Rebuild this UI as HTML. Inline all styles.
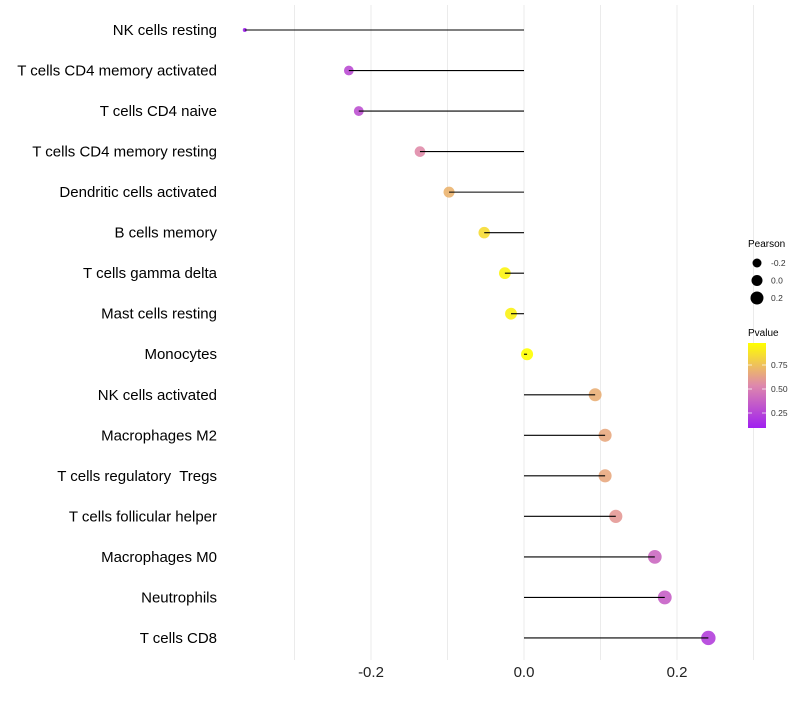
<!DOCTYPE html>
<html><head><meta charset="utf-8"><style>
body{margin:0;background:#fff;font-family:"Liberation Sans",sans-serif;}
</style></head><body>
<svg id="chart" width="800" height="700" style="font-family:'Liberation Sans',sans-serif"></svg>
<script>
const categories=["NK cells resting","T cells CD4 memory activated","T cells CD4 naive","T cells CD4 memory resting","Dendritic cells activated","B cells memory","T cells gamma delta","Mast cells resting","Monocytes","NK cells activated","Macrophages M2","T cells regulatory  Tregs","T cells follicular helper","Macrophages M0","Neutrophils","T cells CD8"];
const pearson=[-0.365,-0.229,-0.216,-0.136,-0.098,-0.052,-0.025,-0.017,0.004,0.093,0.106,0.106,0.120,0.171,0.184,0.241];
const pvalue=[0.09,0.28,0.30,0.55,0.70,0.85,0.94,0.93,0.98,0.68,0.66,0.66,0.60,0.40,0.36,0.22];
const xTicks=[-0.2,0.0,0.2];
const xTickLabels=["-0.2","0.0","0.2"];
const legendSizes=[-0.2,0.0,0.2];
const legendPTicks=[0.25,0.50,0.75];

const NS="http://www.w3.org/2000/svg";
const svg=document.getElementById('chart');
function mk(t,a,p){const e=document.createElementNS(NS,t);for(const k in a)e.setAttribute(k,a[k]);(p||svg).appendChild(e);return e;}
const x=v=>524+v*765;
const y=i=>30+i*40.53;
const r=v=>v>-0.25?6+5*v:Math.max(1.8,4.75+(v+0.25)*24);
function lerp(a,b,t){return a.map((c,i)=>Math.round(c+(b[i]-c)*t));}
function col(p){const lo=[160,32,240],mid=[224,140,170],hi=[255,255,0];
 let c;if(p<0.55)c=lerp(lo,mid,Math.max(0,(p-0.09)/0.46));else c=lerp(mid,hi,Math.min(1,(p-0.55)/0.43));
 return `rgb(${c[0]},${c[1]},${c[2]})`;}
const yp=p=>389-(p-0.5)*96;

for(let g=-0.3;g<=0.31;g+=0.1){
 const gl=mk('line',{x1:x(g),x2:x(g),y1:5,y2:660,stroke:'#ebebeb','stroke-width':1});
 
 
}
xTicks.forEach((t,i)=>{
 const tx=mk('text',{x:x(t),y:677,'text-anchor':'middle','font-size':15,fill:'#222'});
 tx.textContent=xTickLabels[i];
 
 
});
categories.forEach((c,i)=>{
 const t=mk('text',{x:217,y:y(i)+5,'text-anchor':'end','font-size':15,fill:'#000',style:'white-space:pre'});
 t.textContent=c;
 
 
 const pt=mk('circle',{cx:x(pearson[i]),cy:y(i),r:r(pearson[i]),fill:col(pvalue[i]),'fill-opacity':0.9});
 
 
 const ln=mk('line',{x1:x(0),x2:x(pearson[i]),y1:y(i),y2:y(i),stroke:'#000','stroke-width':1.1});
 
 
});
const lt=mk('text',{x:748,y:247,'font-size':10,fill:'#000'});lt.textContent='Pearson';


legendSizes.forEach((s,i)=>{
 const cy=263+i*17.5;
 const c=mk('circle',{cx:757,cy:cy,r:r(s)-0.5,fill:'#000'});
 
 
 const t=mk('text',{x:771,y:cy+3,'font-size':8.5,fill:'#333'});t.textContent=s.toFixed(1);
 
 
});
const pt=mk('text',{x:748,y:336,'font-size':10,fill:'#000'});pt.textContent='Pvalue';


const defs=mk('defs',{});
const lg=mk('linearGradient',{id:'pg',x1:0,y1:1,x2:0,y2:0},defs);
[0,0.25,0.5,0.75,1].forEach(f=>{const p=0.09+f*0.89;mk('stop',{offset:f,'stop-color':col(p)},lg);});
const bar=mk('rect',{x:748,y:343,width:18,height:85,fill:'url(#pg)'});


legendPTicks.forEach(p=>{
 mk('line',{x1:748,x2:752,y1:yp(p),y2:yp(p),stroke:'#fff','stroke-opacity':0.7});
 mk('line',{x1:762,x2:766,y1:yp(p),y2:yp(p),stroke:'#fff','stroke-opacity':0.7});
 const t=mk('text',{x:771,y:yp(p)+3,'font-size':8.5,fill:'#333'});t.textContent=p.toFixed(2);
 
 
});
</script>
</body></html>
